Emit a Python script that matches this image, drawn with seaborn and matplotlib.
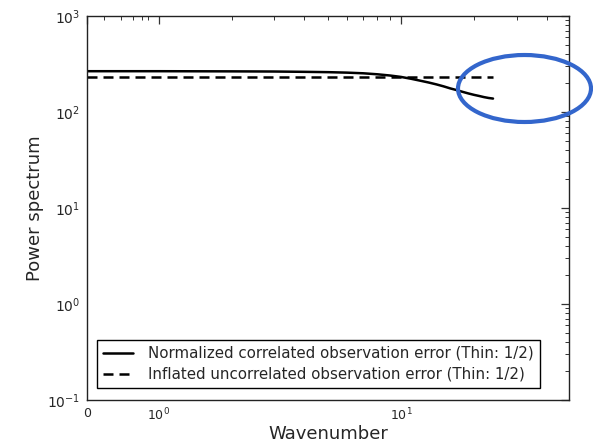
import numpy as np
import pandas as pd
import seaborn as sns
import matplotlib
matplotlib.use("Agg")
import matplotlib.pyplot as plt
from matplotlib.patches import Ellipse
from matplotlib.ticker import FixedLocator, NullFormatter

# Wavenumber axis and the two spectra
wavenumber = list(range(0, 25))
normalized_corr = [266, 266, 265, 264, 262, 260, 257, 253, 247, 240, 232,
                   222, 212, 203, 194, 185, 176, 169, 162, 156, 151, 147,
                   143, 140, 138]
inflated_uncorr = [233] * 25

label_corr = "Normalized correlated observation error (Thin: 1/2)"
label_uncorr = "Inflated uncorrelated observation error (Thin: 1/2)"

x_major = [0, 1, 10]
x_major_labels = ["0", r"$10^0$", r"$10^1$"]
y_major = [1e-1, 1e0, 1e1, 1e2, 1e3]
y_major_labels = [r"$10^{-1}$", r"$10^{0}$", r"$10^{1}$", r"$10^{2}$", r"$10^{3}$"]

df = pd.DataFrame({
    "Wavenumber": wavenumber * 2,
    "Power": normalized_corr + inflated_uncorr,
    "Series": [label_corr] * len(wavenumber) + [label_uncorr] * len(wavenumber),
})

sns.set_theme(style="white")
plt.rcParams["font.family"] = ["DejaVu Sans"]

fig = plt.figure(figsize=(5.93, 4.44), dpi=100)
ax = fig.add_axes([0.1467, 0.099, 0.8128, 0.865])

sns.lineplot(data=df, x="Wavenumber", y="Power", style="Series",
             dashes={label_corr: "", label_uncorr: (4, 2.4)},
             color="black", linewidth=1.8, ax=ax)

ax.set_xscale("symlog", linthresh=1, linscale=0.266)
ax.set_yscale("log")
ax.set_xlim(0, 49.4)
ax.set_ylim(1e-1, 1e3)

ax.xaxis.set_major_locator(FixedLocator(x_major))
ax.set_xticklabels(x_major_labels, fontsize=9)
minor_x = [0.24, 0.47, 0.64, 0.77, 0.85] + list(range(2, 10)) + [20, 30, 40]
ax.xaxis.set_minor_locator(FixedLocator(minor_x))
ax.xaxis.set_minor_formatter(NullFormatter())

ax.yaxis.set_major_locator(FixedLocator(y_major))
ax.set_yticklabels(y_major_labels, fontsize=10)
minor_y = [k * 10.0 ** e for e in range(-1, 3) for k in range(2, 10)]
ax.yaxis.set_minor_locator(FixedLocator(minor_y))
ax.yaxis.set_minor_formatter(NullFormatter())

ax.tick_params(which="both", direction="in", top=True, right=True,
               color="#333333")
ax.tick_params(which="major", length=6, width=0.9, pad=5)
ax.tick_params(which="minor", length=3, width=0.7)

for s in ax.spines.values():
    s.set_color("#222222")
    s.set_linewidth(1.0)

ax.set_xlabel("Wavenumber", fontsize=13, labelpad=1)
ax.set_ylabel("Power spectrum", fontsize=13, labelpad=2)

leg = ax.legend(loc="lower left", bbox_to_anchor=(0.005, 0.012),
                fontsize=10.8, frameon=True, fancybox=False,
                edgecolor="black", framealpha=1, handlelength=2,
                handletextpad=1.0, borderpad=0.4, labelspacing=0.4)
leg.get_frame().set_linewidth(1.0)

# Highlight ring around the tail of the spectra
ring = Ellipse((524.5 / 593, 1 - 88.5 / 444), 133 / 593, 67 / 444,
               transform=fig.transFigure, fill=False,
               edgecolor="#3366cc", linewidth=3, clip_on=False, zorder=10)
fig.patches.append(ring)

fig.savefig("out.png", dpi=100)
